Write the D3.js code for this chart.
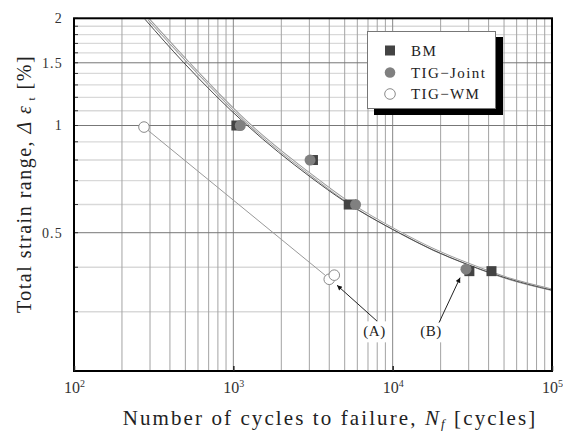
<!DOCTYPE html>
<html>
<head>
<meta charset="utf-8">
<title>Total strain range vs number of cycles to failure</title>
<style>
  body { margin: 0; background: #fff; }
  svg { display: block; font-family: "Liberation Serif", "Times New Roman", serif; }
</style>
<script src="https://cdn.jsdelivr.net/npm/d3@7"></script>
</head>
<body>
<svg width="563" height="431"></svg>
<script>
// values
var bmCycles = [1045, 3160, 5300, 30300, 41700];
var bmStrain = [1.0, 0.80, 0.60, 0.39, 0.39];
var jointCycles = [1106, 3030, 5850, 28850];
var jointStrain = [1.0, 0.80, 0.60, 0.395];
var wmCycles = [275, 4000, 4300];
var wmStrain = [0.99, 0.37, 0.38];

// fitted curves, sampled along the picture
var fitDarkCycles = [279, 486, 1214, 3030, 5026, 11130, 17930, 29190, 54580, 100000];
var fitDarkStrain = [1.987, 1.505, 1.003, 0.718, 0.611, 0.498, 0.447, 0.408, 0.370, 0.345];
var fitLightCycles = [294, 520, 1273, 3187, 5211, 11370, 18190, 29310, 54580, 100000];
var fitLightStrain = [1.987, 1.505, 1.003, 0.718, 0.611, 0.498, 0.448, 0.4096, 0.3705, 0.3457];
var wmFitCycles = [275, 3990];
var wmFitStrain = [0.99, 0.372];

var xTicks = [100, 1000, 10000, 100000];
var xTickExp = ["2", "3", "4", "5"];
var yTicks = [0.5, 1, 1.5, 2];
var yTickLabels = ["0.5", "1", "1.5", "2"];
var legendLabels = ["BM", "TIG\u2212Joint", "TIG\u2212WM"];

// annotations (A) and (B)
var noteLabels = ["(A)", "(B)"];
var noteCycles = [7690, 17400];
var noteStrain = [0.2647, 0.2647];
var noteTailCycles = [7980, 19540];
var noteTailStrain = [0.2823, 0.2796];
var noteTipCycles = [4477, 26500];
var noteTipStrain = [0.356, 0.374];

function pairs(xs, ys) {
  return xs.map(function(v, i) { return [v, ys[i]]; });
}

function draw() {
  var svg = d3.select("svg");
  var pLeft = 74, pRight = 552, pTop = 18.3, pBottom = 371;

  var x = d3.scaleLog().domain([100, 100000]).range([pLeft, pRight]);
  var y = d3.scaleLog().domain([0.2045, 2]).range([pBottom, pTop]);

  var defs = svg.append("defs");
  defs.append("clipPath").attr("id", "plot")
    .append("rect").attr("x", pLeft).attr("y", pTop)
    .attr("width", pRight - pLeft).attr("height", pBottom - pTop);

  defs.append("marker")
    .attr("id", "arrow").attr("viewBox", "0 0 10 10")
    .attr("refX", 10).attr("refY", 5)
    .attr("markerWidth", 9).attr("markerHeight", 5)
    .attr("markerUnits", "userSpaceOnUse")
    .attr("orient", "auto")
    .append("path").attr("d", "M0,0L10,5L0,10z").attr("fill", "#111");

  // grid
  var xMinor = x.ticks().filter(function(v) { return xTicks.indexOf(v) < 0; });
  var yMinor = [];
  for (var k = 3; k <= 19; k++) {
    var v = k / 10;
    if (yTicks.indexOf(v) < 0) yMinor.push(v);
  }

  var grid = svg.append("g");
  grid.selectAll(".hmin").data(yMinor).enter().append("line")
    .attr("x1", pLeft).attr("x2", pRight)
    .attr("y1", function(d) { return y(d); }).attr("y2", function(d) { return y(d); })
    .attr("stroke", "#d9d9d9").attr("stroke-width", 1.3);
  grid.selectAll(".vmin").data(xMinor).enter().append("line")
    .attr("y1", pTop).attr("y2", pBottom)
    .attr("x1", function(d) { return x(d); }).attr("x2", function(d) { return x(d); })
    .attr("stroke", "#a3a3a3").attr("stroke-width", 1);
  grid.selectAll(".vmaj").data(xTicks.slice(1, 3)).enter().append("line")
    .attr("y1", pTop).attr("y2", pBottom)
    .attr("x1", function(d) { return x(d); }).attr("x2", function(d) { return x(d); })
    .attr("stroke", "#888").attr("stroke-width", 1);
  grid.selectAll(".hmaj").data(yTicks.slice(0, 3)).enter().append("line")
    .attr("x1", pLeft).attr("x2", pRight)
    .attr("y1", function(d) { return y(d); }).attr("y2", function(d) { return y(d); })
    .attr("stroke", "#777").attr("stroke-width", 1);

  // small inward ticks on left axis
  svg.append("g").selectAll("line").data(yMinor.concat(yTicks)).enter().append("line")
    .attr("x1", pLeft).attr("x2", pLeft + 4)
    .attr("y1", function(d) { return y(d); }).attr("y2", function(d) { return y(d); })
    .attr("stroke", "#333").attr("stroke-width", 1);

  var notes = svg.append("g");

  // curves
  var line = d3.line()
    .x(function(d) { return x(d[0]); })
    .y(function(d) { return y(d[1]); })
    .curve(d3.curveMonotoneX);
  var straight = d3.line()
    .x(function(d) { return x(d[0]); })
    .y(function(d) { return y(d[1]); });

  var curves = svg.append("g").attr("clip-path", "url(#plot)").attr("fill", "none");
  curves.append("path").datum(pairs(fitLightCycles, fitLightStrain))
    .attr("d", line).attr("stroke", "#9a9a9a").attr("stroke-width", 2.6);
  curves.append("path").datum(pairs(fitLightCycles, fitLightStrain))
    .attr("d", line).attr("stroke", "#fff").attr("stroke-width", 0.9);
  curves.append("path").datum(pairs(fitDarkCycles, fitDarkStrain))
    .attr("d", line).attr("stroke", "#4a4a4a").attr("stroke-width", 1);
  curves.append("path").datum(pairs(wmFitCycles, wmFitStrain))
    .attr("d", straight).attr("stroke", "#999").attr("stroke-width", 1);

  // points
  var pts = svg.append("g");
  pts.selectAll(".bm").data(pairs(bmCycles, bmStrain)).enter().append("rect")
    .attr("x", function(d) { return x(d[0]) - 5; })
    .attr("y", function(d) { return y(d[1]) - 5; })
    .attr("width", 10).attr("height", 10)
    .attr("fill", "#434343");
  pts.selectAll(".joint").data(pairs(jointCycles, jointStrain)).enter().append("circle")
    .attr("cx", function(d) { return x(d[0]); })
    .attr("cy", function(d) { return y(d[1]); })
    .attr("r", 5.5).attr("fill", "#808080");
  pts.selectAll(".wm").data(pairs(wmCycles, wmStrain)).enter().append("circle")
    .attr("cx", function(d) { return x(d[0]); })
    .attr("cy", function(d) { return y(d[1]); })
    .attr("r", 5.3).attr("fill", "#fff").attr("stroke", "#8a8a8a").attr("stroke-width", 1);

  // annotations
  noteLabels.forEach(function(label, i) {
    var cx = x(noteCycles[i]), cy = y(noteStrain[i]);
    var box = notes.append("rect").attr("fill", "#fff");
    var t = notes.append("text")
      .attr("x", cx).attr("y", cy).attr("dy", "0.35em")
      .attr("text-anchor", "middle")
      .attr("font-size", 15).attr("letter-spacing", 0.5)
      .attr("fill", "#222")
      .text(label);
    var bb = t.node().getBBox();
    box.attr("x", bb.x - 3).attr("y", bb.y - 2)
      .attr("width", bb.width + 7).attr("height", bb.height + 4);
    svg.append("line")
      .attr("x1", x(noteTailCycles[i])).attr("y1", y(noteTailStrain[i]))
      .attr("x2", x(noteTipCycles[i])).attr("y2", y(noteTipStrain[i]))
      .attr("stroke", "#222").attr("stroke-width", 1)
      .attr("marker-end", "url(#arrow)");
  });

  // frame
  svg.append("rect")
    .attr("x", pLeft).attr("y", pTop)
    .attr("width", pRight - pLeft).attr("height", pBottom - pTop)
    .attr("fill", "none").attr("stroke", "#000").attr("stroke-width", 2);

  // x axis labels
  var xAxis = svg.append("g")
    .attr("transform", "translate(0," + pBottom + ")")
    .call(d3.axisBottom(x).tickValues(xTicks).tickSizeInner(-5).tickSizeOuter(0).tickPadding(11)
      .tickFormat(function() { return ""; }));
  xAxis.select(".domain").remove();
  xAxis.selectAll(".tick line").attr("stroke", "#222").attr("stroke-width", 1.5);
  xAxis.selectAll(".tick text").each(function(d, i) {
    var t = d3.select(this)
      .attr("font-family", "Liberation Serif, serif")
      .attr("font-size", 16).attr("fill", "#333");
    t.append("tspan").text("10");
    t.append("tspan").attr("font-size", 10).attr("dy", "-0.6em").text(xTickExp[i]);
  });

  // y axis labels
  var yAxis = svg.append("g")
    .attr("transform", "translate(" + pLeft + ",0)")
    .call(d3.axisLeft(y).tickValues(yTicks).tickSize(0).tickPadding(11)
      .tickFormat(function(d, i) { return yTickLabels[i]; }));
  yAxis.select(".domain").remove();
  yAxis.selectAll(".tick text")
    .attr("font-family", "Liberation Serif, serif")
    .attr("font-size", 14).attr("letter-spacing", 1.2).attr("fill", "#333");

  // axis titles
  var xt = svg.append("text")
    .attr("x", 330).attr("y", 425)
    .attr("text-anchor", "middle")
    .attr("font-size", 21).attr("letter-spacing", 2.1).attr("fill", "#222");
  xt.append("tspan").text("Number of cycles to failure, ");
  xt.append("tspan").attr("font-style", "italic").text("N");
  xt.append("tspan").attr("font-style", "italic").attr("font-size", 13).attr("dy", 3).text("f");
  xt.append("tspan").attr("dy", -3).text(" [cycles]");

  var yt = svg.append("text")
    .attr("transform", "translate(31,184) rotate(-90)")
    .attr("text-anchor", "middle")
    .attr("font-size", 20).attr("letter-spacing", 1.5).attr("fill", "#222");
  yt.append("tspan").text("Total strain range, ");
  yt.append("tspan").attr("font-style", "italic").text("\u0394 \u03b5");
  yt.append("tspan").attr("font-size", 11).attr("dy", 4).text(" t");
  yt.append("tspan").attr("dy", -4).text(" [%]");

  // legend
  var lg = svg.append("g");
  lg.append("rect").attr("x", 374).attr("y", 37).attr("width", 129).attr("height", 78).attr("fill", "#000");
  lg.append("rect").attr("x", 367.5).attr("y", 31.5).attr("width", 128).attr("height", 77)
    .attr("fill", "#fff").attr("stroke", "#777").attr("stroke-width", 1);
  var rows = [50.5, 72.5, 94];
  legendLabels.forEach(function(label, i) {
    var ry = rows[i];
    if (i === 0) {
      lg.append("rect").attr("x", 385).attr("y", ry - 5).attr("width", 10).attr("height", 10).attr("fill", "#434343");
    } else if (i === 1) {
      lg.append("circle").attr("cx", 390).attr("cy", ry).attr("r", 5.3).attr("fill", "#808080");
    } else {
      lg.append("circle").attr("cx", 390).attr("cy", ry).attr("r", 5.3).attr("fill", "#fff").attr("stroke", "#8a8a8a");
    }
    lg.append("text").attr("x", 411).attr("y", ry).attr("dy", "0.35em")
      .attr("font-size", 15).attr("letter-spacing", 1.4).attr("fill", "#222")
      .text(label);
  });
}

draw();
</script>
</body>
</html>
